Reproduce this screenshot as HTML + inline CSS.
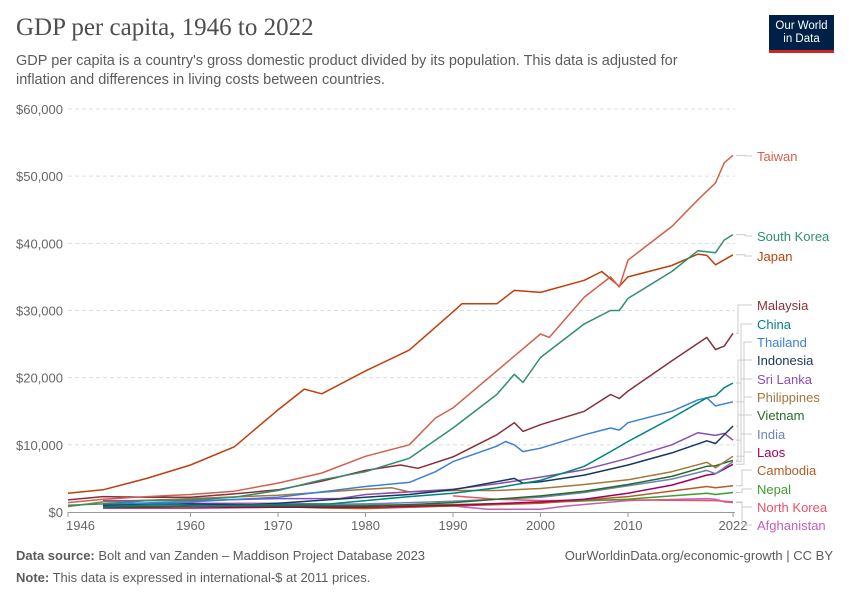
<!DOCTYPE html>
<html><head><meta charset="utf-8"><style>
body{margin:0;width:850px;height:600px;background:#fff;font-family:"Liberation Sans",sans-serif;position:relative;overflow:hidden}
.t{position:absolute;white-space:nowrap}
</style></head><body>
<div class="t" style="left:16px;top:14px;font-family:'Liberation Serif',serif;font-size:25px;color:#4e4e4e">GDP per capita, 1946 to 2022</div>
<div class="t" style="left:16px;top:52px;font-size:14.5px;color:#5b5b5b;line-height:19px">GDP per capita is a country's gross domestic product divided by its population. This data is adjusted for<br>inflation and differences in living costs between countries.</div>
<div style="position:absolute;left:769px;top:15px;width:65px;height:38px;background:#002147;border-bottom:3px solid #ce261e;box-sizing:border-box;color:#fff;font-size:11.5px;line-height:13px;text-align:center;padding-top:5px">Our World<br>in Data</div>
<svg id="c" width="850" height="600" style="position:absolute;left:0;top:0"></svg>
<div class="t" style="left:16px;top:548px;font-size:13px;color:#5b5b5b"><b>Data source:</b> Bolt and van Zanden – Maddison Project Database 2023</div>
<div class="t" style="right:17px;top:548px;font-size:13px;color:#5b5b5b">OurWorldinData.org/economic-growth | CC BY</div>
<div class="t" style="left:16px;top:570px;font-size:13px;color:#5b5b5b"><b>Note:</b> This data is expressed in international-$ at 2011 prices.</div>
<script>
const yTicks=[0,10000,20000,30000,40000,50000,60000];
const yTickLabels=["$0","$10,000","$20,000","$30,000","$40,000","$50,000","$60,000"];
const xTicks=[1946,1960,1970,1980,1990,2000,2010,2022];
const names=["Taiwan","South Korea","Japan","Malaysia","China","Thailand","Indonesia","Sri Lanka","Philippines","Vietnam","India","Laos","Cambodia","Nepal","North Korea","Afghanistan"];
const colors=["#d2604c","#2f8f6e","#be3f0c","#883039","#00847e","#3c7fd6","#18375f","#8a4fb0","#a2773c","#286b28","#6d83b9","#a2005c","#b35c28","#3d9d2d","#e8536c","#c45fb8"];
const labelY=[156,236,256,305,324,342,360,379,397,415,434,452,470,489,507,525];
const taiwanYears=[1946,1950,1955,1960,1965,1970,1975,1980,1985,1988,1990,1995,2000,2001,2005,2008,2009,2010,2015,2018,2020,2021,2022];
const taiwanVals=[1400,1900,2300,2600,3100,4300,5800,8300,10000,14000,15500,21000,26500,26000,32000,35000,33500,37500,42500,46500,49000,52000,53100];
const koreaYears=[1946,1950,1955,1960,1965,1970,1975,1980,1985,1990,1995,1997,1998,2000,2005,2008,2009,2010,2015,2018,2020,2021,2022];
const koreaVals=[1000,1200,1700,1800,2200,3200,4800,6000,8000,12500,17500,20500,19300,23000,28000,30000,30000,31800,35800,38900,38600,40500,41300];
const japanYears=[1946,1950,1955,1960,1965,1970,1973,1975,1980,1985,1990,1991,1995,1997,2000,2005,2007,2009,2010,2015,2018,2019,2020,2022];
const japanVals=[2800,3300,5000,7000,9700,15200,18300,17600,21000,24100,29800,31000,31000,33000,32700,34500,35800,33600,35000,36700,38400,38200,36800,38300];
const malaysiaYears=[1946,1950,1955,1960,1965,1970,1975,1980,1984,1986,1990,1995,1997,1998,2000,2005,2008,2009,2010,2015,2019,2020,2021,2022];
const malaysiaVals=[1800,2300,2200,2200,2700,3300,4600,6200,7000,6500,8200,11500,13300,12000,13000,15000,17500,16900,18000,22500,26000,24200,24700,26600];
const chinaYears=[1950,1958,1961,1970,1976,1980,1985,1990,1995,2000,2005,2008,2010,2015,2019,2020,2021,2022];
const chinaVals=[800,1200,900,1100,1200,1700,2300,2800,3600,4700,6800,9000,10500,14000,17000,17300,18500,19200];
const thailandYears=[1950,1960,1970,1980,1985,1988,1990,1995,1996,1997,1998,2000,2005,2008,2009,2010,2015,2018,2019,2020,2022];
const thailandVals=[1200,1500,2200,3800,4400,6000,7500,9800,10500,10000,9000,9500,11500,12500,12200,13300,15000,16700,17000,15800,16400];
const indonesiaYears=[1950,1960,1967,1970,1980,1985,1990,1997,1998,2000,2005,2010,2015,2019,2020,2022];
const indonesiaVals=[1000,1200,1100,1300,2200,2600,3300,5000,4300,4500,5500,7000,8800,10600,10200,12800];
const srilankaYears=[1950,1960,1970,1977,1980,1990,1995,2000,2005,2010,2015,2018,2020,2021,2022];
const srilankaVals=[1700,1700,2000,2000,2600,3400,4200,5200,6300,8000,10000,11800,11400,11700,10700];
const philippinesYears=[1946,1950,1960,1970,1980,1983,1985,1990,1995,2000,2005,2010,2015,2019,2020,2022];
const philippinesVals=[800,1500,2000,2500,3400,3600,3000,3200,3200,3500,4100,4800,6000,7400,6600,8300];
const vietnamYears=[1950,1960,1970,1980,1985,1990,1995,2000,2005,2010,2015,2019,2020,2022];
const vietnamVals=[700,900,900,900,1100,1400,1900,2400,3100,4100,5300,6800,6900,7700];
const indiaYears=[1950,1960,1970,1980,1990,1995,2000,2005,2010,2015,2019,2020,2022];
const indiaVals=[900,1000,1100,1200,1600,1900,2200,2900,3900,4900,6200,5700,7500];
const laosYears=[1950,1960,1970,1980,1990,2000,2005,2010,2015,2019,2020,2022];
const laosVals=[600,600,700,700,1000,1500,1900,2800,4000,5500,5700,7100];
const cambodiaYears=[1950,1960,1970,1975,1980,1990,2000,2010,2019,2020,2022];
const cambodiaVals=[700,900,800,600,500,900,1300,2300,3800,3600,3900];
const nepalYears=[1950,1970,1990,2000,2010,2019,2020,2022];
const nepalVals=[800,900,1100,1400,1900,2800,2600,2900];
const nkoreaYears=[1990,1995,2000,2010,2020,2022];
const nkoreaVals=[2400,1900,1700,1800,1700,1500];
const afghanYears=[1950,1960,1970,1980,1990,1994,2000,2003,2010,2019,2020,2021,2022];
const afghanVals=[1200,1300,1300,1100,900,400,400,900,1700,2000,1900,1500,1400];
const seriesYears=[taiwanYears,koreaYears,japanYears,malaysiaYears,chinaYears,thailandYears,indonesiaYears,srilankaYears,philippinesYears,vietnamYears,indiaYears,laosYears,cambodiaYears,nepalYears,nkoreaYears,afghanYears];
const seriesVals=[taiwanVals,koreaVals,japanVals,malaysiaVals,chinaVals,thailandVals,indonesiaVals,srilankaVals,philippinesVals,vietnamVals,indiaVals,laosVals,cambodiaVals,nepalVals,nkoreaVals,afghanVals];

const svg=document.getElementById('c');const NS='http://www.w3.org/2000/svg';
const X=y=>68+(y-1946)*(733-68)/76;
const Y=v=>512-v*(512-109)/60000;
function mk(t,a,p){const e=document.createElementNS(NS,t);for(const k in a)e.setAttribute(k,a[k]);(p||svg).appendChild(e);return e;}
yTicks.forEach((v,i)=>{
  if(v>0){const g=mk('line',{x1:68,x2:735,y1:Y(v),y2:Y(v),stroke:'#ddd','stroke-dasharray':'4,3'});
  
  }
  const t=mk('text',{x:63,y:Y(v)+5,'text-anchor':'end','font-size':13,fill:'#666'});t.textContent=yTickLabels[i];
  
  
});
const ax=mk('line',{x1:68,x2:735,y1:512.5,y2:512.5,stroke:'#999'});


xTicks.forEach(yr=>{
  mk('line',{x1:X(yr),x2:X(yr),y1:512,y2:517,stroke:'#999'});
  const t=mk('text',{x:X(yr),y:530,'text-anchor':yr==1946?'start':'middle','font-size':13,fill:'#666'});t.textContent=yr;
  if(yr==1946)t.setAttribute('x',X(yr)-2);
  
  
});
for(let i=names.length-1;i>=0;i--){
  const ys=seriesYears[i],vs=seriesVals[i];
  const pts=ys.map((y,j)=>X(y).toFixed(1)+','+Y(vs[j]).toFixed(1)).join(' ');
  const l=mk('polyline',{points:pts,fill:'none',stroke:colors[i],'stroke-width':1.5,'stroke-linejoin':'round'});
  
  
  const ey=Y(vs[vs.length-1]);
  const bx=i<3?745:(i<12?738+ (i%3)*3:742);
  mk('path',{d:`M736,${ey} H${bx} V${labelY[i]} H752`,fill:'none',stroke:'#ccc','stroke-width':1});
  const t=mk('text',{x:757,y:labelY[i]+5,'font-size':13,fill:colors[i]});t.textContent=names[i];
  
  
}
</script>
</body></html>
